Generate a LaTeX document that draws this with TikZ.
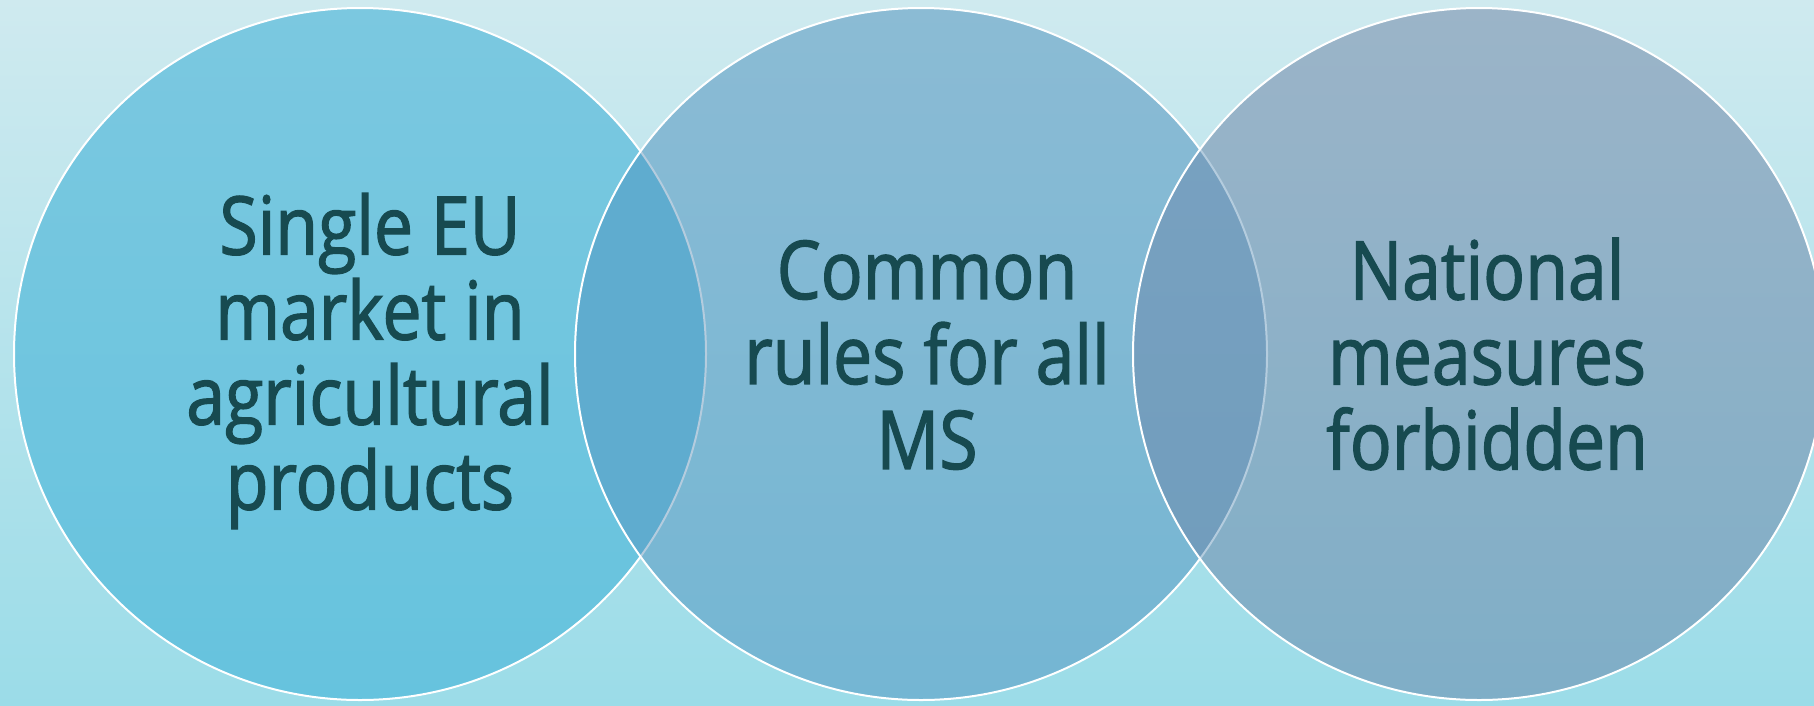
\documentclass[tikz,border=0pt]{standalone}
\usepackage{fontspec}
\setmainfont[FakeStretch=0.86,FakeBold=1.6]{Open Sans}
\definecolor{bgtop}{HTML}{CFEAEF}
\definecolor{bgbot}{HTML}{9BDCE8}
\definecolor{cAtop}{HTML}{7BC8E0}
\definecolor{cAbot}{HTML}{66C3DE}
\definecolor{cBtop}{HTML}{8BBBD4}
\definecolor{cBbot}{HTML}{74B6D3}
\definecolor{cCtop}{HTML}{9BB4C8}
\definecolor{cCbot}{HTML}{7FAEC7}
\definecolor{lensAB}{HTML}{5FACCF}
\definecolor{lensBCtop}{HTML}{7AA2C1}
\definecolor{lensBCbot}{HTML}{6F9CBC}
\definecolor{faint}{HTML}{B4CCDE}
\definecolor{txt}{HTML}{174A50}
\tikzset{
  circ/.style={circle, minimum size=692pt, inner sep=0pt, draw=none, overlay},
  rim/.style={draw=white, line width=2pt},
  faintrim/.style={draw=faint, line width=2pt},
  label/.style={text=txt, font=\fontsize{81}{85}\selectfont, align=center, inner sep=0pt}
}
\begin{document}
\begin{tikzpicture}[x=1pt,y=-1pt]
\useasboundingbox (0,0) rectangle (1814,705);
\shade[top color=bgtop, bottom color=bgbot] (0,0) rectangle (1814,705);
\begin{scope}
\clip (0,0) rectangle (1814,705);
% circle 1
\node[circ, top color=cAtop, bottom color=cAbot] (c1) at (360,354) {};
\draw[rim] (c1.center) circle (346pt);
% circle 2
\node[circ, top color=cBtop, bottom color=cBbot] (c2) at (921,354) {};
\begin{scope}
\clip (c1.center) circle (346pt);
\fill[lensAB] (c2.center) circle (346pt);
\end{scope}
\begin{scope}
\clip (c2.center) circle (346pt);
\draw[faintrim] (c1.center) circle (346pt);
\end{scope}
\draw[rim] (c2.center) circle (346pt);
% circle 3
\node[circ, top color=cCtop, bottom color=cCbot] (c3) at (1479,354) {};
\begin{scope}
\clip (c2.center) circle (346pt);
\shade[top color=lensBCtop, bottom color=lensBCbot] (c3.center) circle (346pt);
\end{scope}
\begin{scope}
\clip (c3.center) circle (346pt);
\draw[faintrim] (c2.center) circle (346pt);
\end{scope}
\draw[rim] (c3.center) circle (346pt);
\end{scope}
% labels
\node[label] (t1) at (370,361) {Single EU\\market in\\agricultural\\products};
\node[label] (t2) at (927,355) {Common\\rules for all\\MS};
\node[label] (t3) at (1487,354) {National\\measures\\forbidden};
\end{tikzpicture}
\end{document}
